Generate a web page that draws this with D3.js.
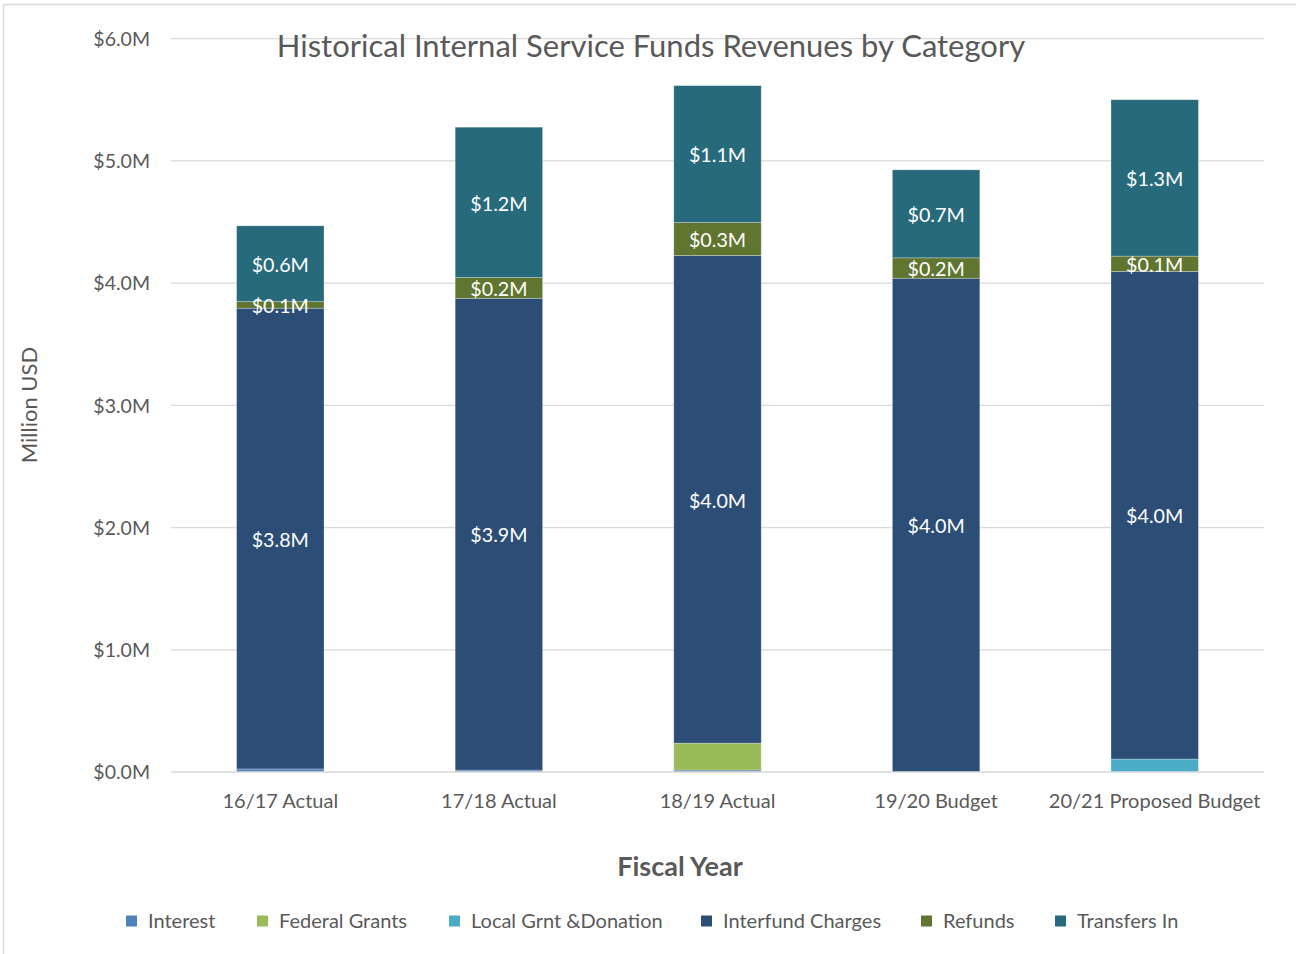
<!DOCTYPE html>
<html>
<head>
<meta charset="utf-8">
<script src="https://cdn.jsdelivr.net/npm/d3@7"></script>
<style>
  html, body { margin: 0; padding: 0; background: #fff; }
  svg { display: block; font-family: Lato, "Open Sans", sans-serif; }
</style>
</head>
<body>
<svg id="chart" width="1296" height="954"></svg>
<script>
// Fiscal years on the x axis
const years = ["16/17 Actual", "17/18 Actual", "18/19 Actual", "19/20 Budget", "20/21 Proposed Budget"];

// Revenue categories, stacked bottom to top (million USD)
const categories = ["Interest", "Federal Grants", "Local Grnt &Donation", "Interfund Charges", "Refunds", "Transfers In"];
const interest      = [0.025, 0.016, 0.016, 0.0,   0.0];
const federalGrants = [0.0,   0.0,   0.22,  0.0,   0.0];
const localGrants   = [0.0,   0.0,   0.0,   0.0,   0.106];
const interfund     = [3.77,  3.86,  3.99,  4.04,  3.99];
const refunds       = [0.054, 0.17,  0.27,  0.167, 0.125];
const transfersIn   = [0.62,  1.23,  1.12,  0.72,  1.28];

const yTicks = [0, 1, 2, 3, 4, 5, 6];
const colors = ["#4F81BD", "#9BBB59", "#4BACC6", "#2C4D75", "#5F7530", "#276A7C"];
const labelled = new Set(["Interfund Charges", "Refunds", "Transfers In"]);

const seriesValues = [interest, federalGrants, localGrants, interfund, refunds, transfersIn];
const rows = years.map((y, i) => {
  const r = { year: y };
  categories.forEach((c, k) => { r[c] = seriesValues[k][i]; });
  return r;
});

const svg = d3.select("#chart");
const textColor = "#595959";

// chart frame
svg.append("rect").attr("x", 3.5).attr("y", 4.5).attr("width", 1400).attr("height", 1000)
  .attr("fill", "none").attr("stroke", "#d9d9d9").attr("stroke-width", 1.5);

const x = d3.scaleBand().domain(years).range([171, 1264]).paddingInner(0.6).paddingOuter(0.3);
const y = d3.scaleLinear().domain([0, 6]).range([772, 38.7]);
const fmt = v => "$" + v.toFixed(1) + "M";

// gridlines
svg.append("g").selectAll("line").data(yTicks.filter(t => t > 0)).join("line")
  .attr("x1", 171).attr("x2", 1264)
  .attr("y1", d => y(d)).attr("y2", d => y(d))
  .attr("stroke", "#d9d9d9").attr("stroke-width", 1.3);

// y axis labels
const yAxis = svg.append("g").attr("transform", "translate(150,0)")
  .call(d3.axisLeft(y).tickValues(yTicks).tickFormat(fmt).tickSize(0).tickPadding(0));
yAxis.select(".domain").remove();
yAxis.selectAll("text").attr("fill", textColor).style("font-size", "19.5px")
  .style("font-family", "Lato, sans-serif").attr("dy", "0.35em");

// title
svg.append("text").attr("x", 651).attr("y", 57).attr("text-anchor", "middle")
  .attr("fill", textColor).style("font-size", "31px").text("Historical Internal Service Funds Revenues by Category");

// stacked bars
const stack = d3.stack().keys(categories)(rows);
const layers = svg.append("g").selectAll("g").data(stack).join("g")
  .attr("fill", (d, i) => colors[i]);
layers.selectAll("rect").data(d => d.filter(s => s[1] - s[0] > 0)).join("rect")
  .attr("x", d => x(d.data.year))
  .attr("width", x.bandwidth())
  .attr("y", d => y(d[1]))
  .attr("height", d => y(d[0]) - y(d[1]))
  .attr("stroke", "rgba(255,255,255,0.35)").attr("stroke-width", 0.8);

// x axis line
svg.append("line").attr("x1", 171).attr("x2", 1264).attr("y1", 772).attr("y2", 772)
  .attr("stroke", "#d9d9d9").attr("stroke-width", 1.5);

// segment value labels
const labelG = svg.append("g");
stack.forEach(layer => {
  if (!labelled.has(layer.key)) return;
  layer.forEach(s => {
    labelG.append("text")
      .attr("x", x(s.data.year) + x.bandwidth() / 2)
      .attr("y", (y(s[0]) + y(s[1])) / 2)
      .attr("dy", "0.42em").attr("text-anchor", "middle")
      .attr("fill", "#fff").style("font-size", "19.7px")
      .text(fmt(s[1] - s[0]));
  });
});

// x axis labels
const xAxis = svg.append("g").attr("transform", "translate(0,772)")
  .call(d3.axisBottom(x).tickSize(0).tickPadding(0));
xAxis.select(".domain").remove();
xAxis.selectAll("text").attr("fill", textColor).style("font-size", "20px")
  .style("font-family", "Lato, sans-serif").attr("dy", 0).attr("y", 36);

// axis titles
svg.append("text").attr("x", 680).attr("y", 876).attr("text-anchor", "middle")
  .attr("fill", textColor).style("font-size", "27px").style("font-weight", "bold").text("Fiscal Year");
svg.append("text").attr("transform", "translate(37,405) rotate(-90)").attr("text-anchor", "middle")
  .attr("fill", textColor).style("font-size", "22px").text("Million USD");

// legend
const legendX = [126, 257, 449, 701, 921, 1055];
const legend = svg.append("g").selectAll("g").data(categories).join("g")
  .attr("transform", (d, i) => `translate(${legendX[i]},921)`);
legend.append("rect").attr("x", 0).attr("y", -5.5).attr("width", 11).attr("height", 11)
  .attr("fill", (d, i) => colors[i]);
legend.append("text").attr("x", 22).attr("dy", "0.35em").attr("fill", textColor)
  .style("font-size", "20px").text(d => d);
</script>
</body>
</html>
